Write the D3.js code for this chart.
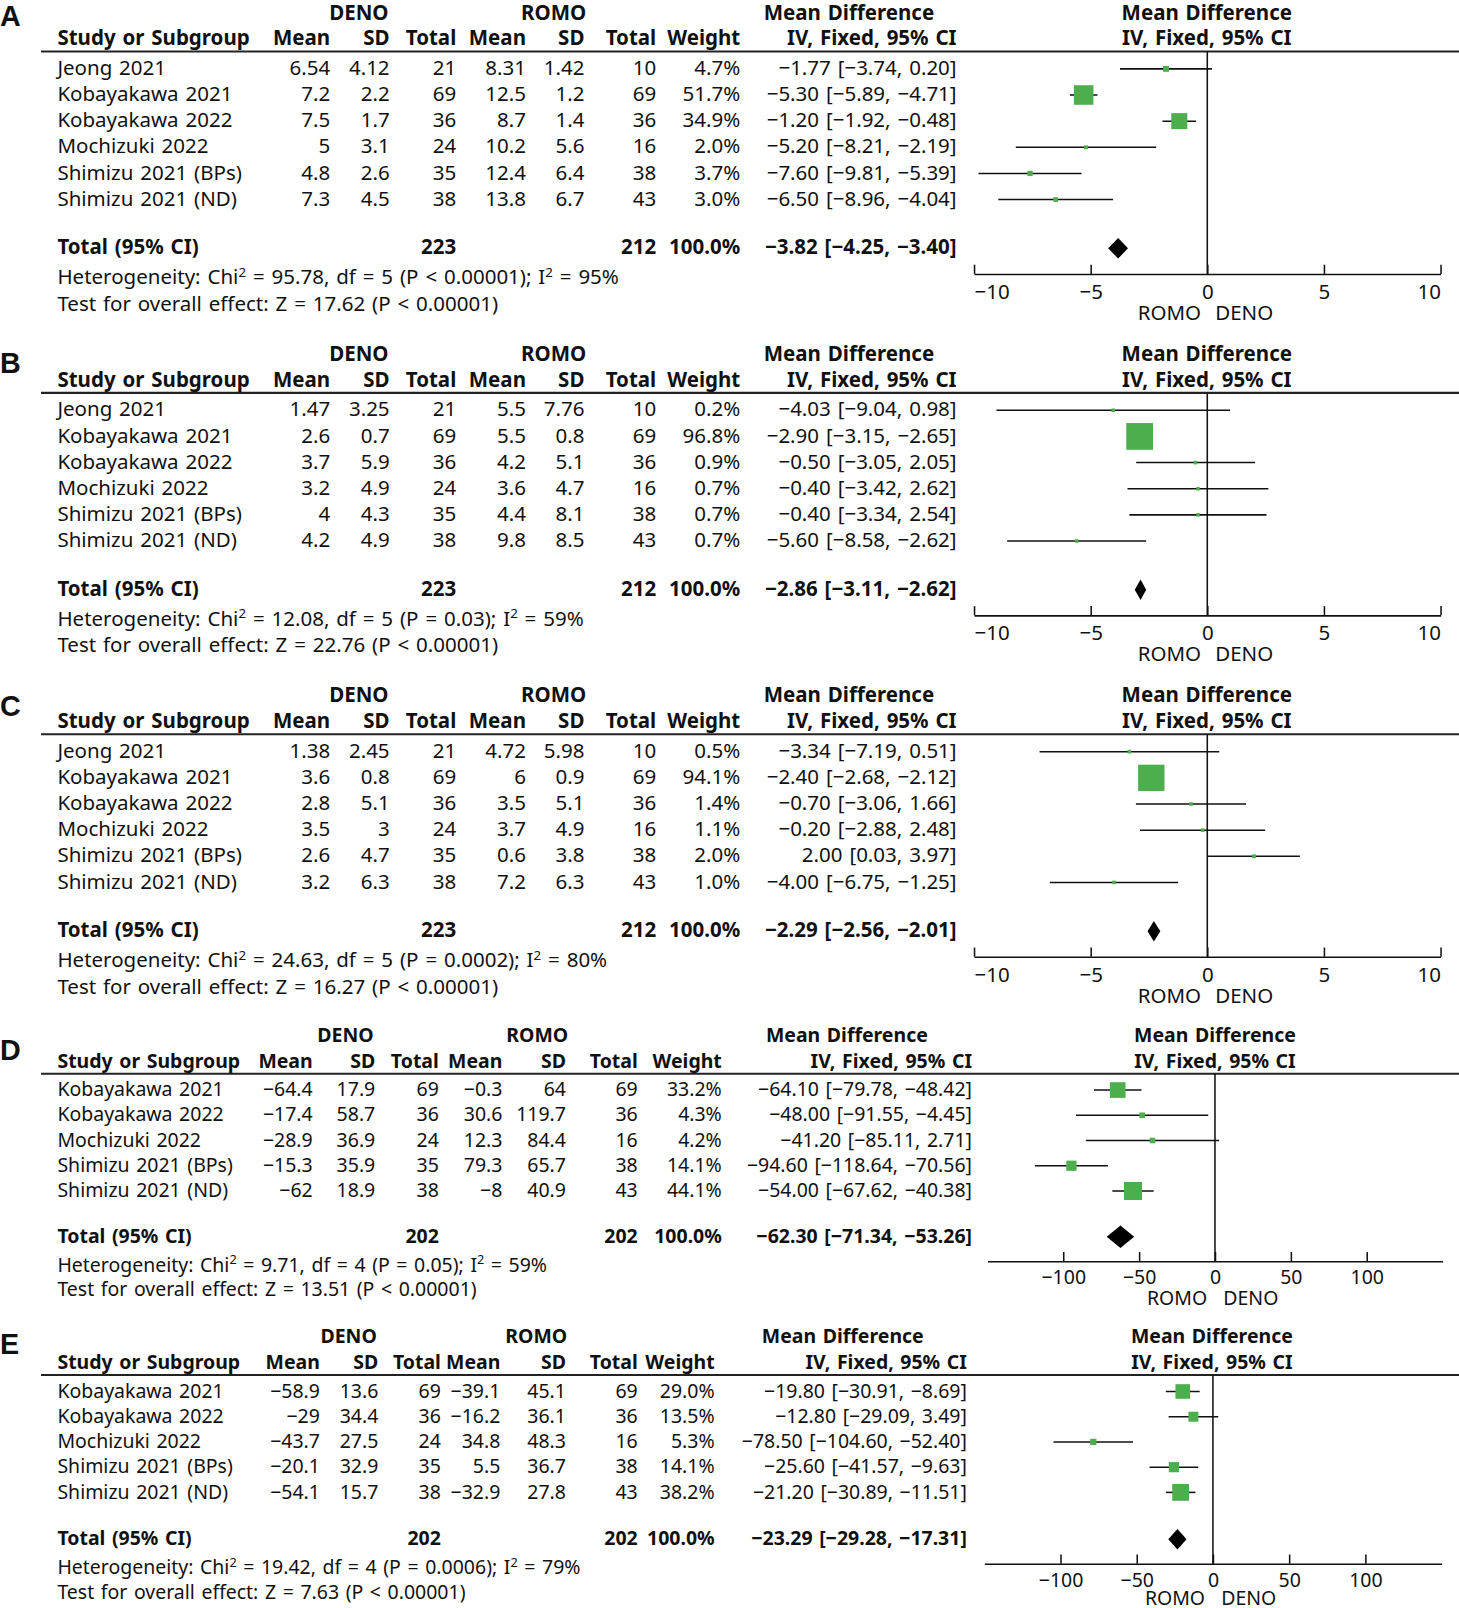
<!DOCTYPE html>
<html>
<head>
<meta charset="utf-8">
<script src="https://cdn.jsdelivr.net/npm/d3@7"></script>
<style>
  body { margin: 0; background: #fff; }
  text { font-family: "Noto Sans", "Open Sans", sans-serif; fill: #111; word-spacing: 1.5px; }
</style>
</head>
<body>
<script>
// ---- data ----
var studiesABC = ["Jeong 2021", "Kobayakawa 2021", "Kobayakawa 2022", "Mochizuki 2022", "Shimizu 2021 (BPs)", "Shimizu 2021 (ND)"]
var studiesDE = ["Kobayakawa 2021", "Kobayakawa 2022", "Mochizuki 2022", "Shimizu 2021 (BPs)", "Shimizu 2021 (ND)"]
var denoNABC = [21, 69, 36, 24, 35, 38]
var romoNABC = [10, 69, 36, 16, 38, 43]
var denoNDE = [69, 36, 24, 35, 38]
var romoNDE = [69, 36, 16, 38, 43]

// A
var denoMeanA = [6.54, 7.2, 7.5, 5, 4.8, 7.3]
var denoSdA = [4.12, 2.2, 1.7, 3.1, 2.6, 4.5]
var romoMeanA = [8.31, 12.5, 8.7, 10.2, 12.4, 13.8]
var romoSdA = [1.42, 1.2, 1.4, 5.6, 6.4, 6.7]
var weightA = [4.7, 51.7, 34.9, 2.0, 3.7, 3.0]
var mdA = [-1.77, -5.30, -1.20, -5.20, -7.60, -6.50]
var loA = [-3.74, -5.89, -1.92, -8.21, -9.81, -8.96]
var hiA = [0.20, -4.71, -0.48, -2.19, -5.39, -4.04]

// B
var denoMeanB = [1.47, 2.6, 3.7, 3.2, 4, 4.2]
var denoSdB = [3.25, 0.7, 5.9, 4.9, 4.3, 4.9]
var romoMeanB = [5.5, 5.5, 4.2, 3.6, 4.4, 9.8]
var romoSdB = [7.76, 0.8, 5.1, 4.7, 8.1, 8.5]
var weightB = [0.2, 96.8, 0.9, 0.7, 0.7, 0.7]
var mdB = [-4.03, -2.90, -0.50, -0.40, -0.40, -5.60]
var loB = [-9.04, -3.15, -3.05, -3.42, -3.34, -8.58]
var hiB = [0.98, -2.65, 2.05, 2.62, 2.54, -2.62]

// C
var denoMeanC = [1.38, 3.6, 2.8, 3.5, 2.6, 3.2]
var denoSdC = [2.45, 0.8, 5.1, 3, 4.7, 6.3]
var romoMeanC = [4.72, 6, 3.5, 3.7, 0.6, 7.2]
var romoSdC = [5.98, 0.9, 5.1, 4.9, 3.8, 6.3]
var weightC = [0.5, 94.1, 1.4, 1.1, 2.0, 1.0]
var mdC = [-3.34, -2.40, -0.70, -0.20, 2.00, -4.00]
var loC = [-7.19, -2.68, -3.06, -2.88, 0.03, -6.75]
var hiC = [0.51, -2.12, 1.66, 2.48, 3.97, -1.25]

// D
var denoMeanD = [-64.4, -17.4, -28.9, -15.3, -62]
var denoSdD = [17.9, 58.7, 36.9, 35.9, 18.9]
var romoMeanD = [-0.3, 30.6, 12.3, 79.3, -8]
var romoSdD = [64, 119.7, 84.4, 65.7, 40.9]
var weightD = [33.2, 4.3, 4.2, 14.1, 44.1]
var mdD = [-64.10, -48.00, -41.20, -94.60, -54.00]
var loD = [-79.78, -91.55, -85.11, -118.64, -67.62]
var hiD = [-48.42, -4.45, 2.71, -70.56, -40.38]

// E
var denoMeanE = [-58.9, -29, -43.7, -20.1, -54.1]
var denoSdE = [13.6, 34.4, 27.5, 32.9, 15.7]
var romoMeanE = [-39.1, -16.2, 34.8, 5.5, -32.9]
var romoSdE = [45.1, 36.1, 48.3, 36.7, 27.8]
var weightE = [29.0, 13.5, 5.3, 14.1, 38.2]
var mdE = [-19.80, -12.80, -78.50, -25.60, -21.20]
var loE = [-30.91, -29.09, -104.60, -41.57, -30.89]
var hiE = [-8.69, 3.49, -52.40, -9.63, -11.51]

// totals per panel A..E
var panelLetters = ["A", "B", "C", "D", "E"]
var totalDeno = [223, 223, 223, 202, 202]
var totalRomo = [212, 212, 212, 202, 202]
var totalMd = [-3.82, -2.86, -2.29, -62.30, -23.29]
var totalLo = [-4.25, -3.11, -2.56, -71.34, -29.28]
var totalHi = [-3.40, -2.62, -2.01, -53.26, -17.31]
var chiVals = [95.78, 12.08, 24.63, 9.71, 19.42]
var dfVals = [5, 5, 5, 4, 4]
var hetP = ["< 0.00001", "= 0.03", "= 0.0002", "= 0.05", "= 0.0006"]
var i2Vals = [95, 59, 80, 59, 79]
var zVals = [17.62, 22.76, 16.27, 13.51, 7.63]

var ticksSmall = [-10, -5, 0, 5, 10]
var ticksLarge = [-100, -50, 0, 50, 100]

// ---- layout ----
var svg = d3.select("body").append("svg")
    .attr("width", 1459)
    .attr("height", 1608)
    .attr("viewBox", "0 0 1423 1568")

var green = "#4cae4c"
var boxSize = d3.scaleSqrt().domain([0, 100]).range([0, 26.5])
var f2 = d3.format(".2f")
var f1 = d3.format(".1f")
var minus = function(v) { return String(v).replace("-", "\u2212") }

var layoutABC = {
    rowGap: 25.5, firstRow: 23, totalY: 198, hetY: 227, testY: 253, axisY: 217,
    font: 20, cols: [322, 380, 445, 513, 570, 640, 722, 933],
    deno: 350, romo: 540, mdHead: 828, plotHead: 1177, pad: 10, clampEnds: true,
    xr: [950, 1405], dom: [-10, 10], ticks: ticksSmall, dh: 10, sideOff: [-37, 36], sideY: 262
}

var panels = [
    {L: 50, letterY: -25, lay: layoutABC, studies: studiesABC, n1: denoNABC, n2: romoNABC,
     m1: denoMeanA, s1: denoSdA, m2: romoMeanA, s2: romoSdA, w: weightA, md: mdA, lo: loA, hi: hiA},
    {L: 383, letterY: -19, lay: layoutABC, studies: studiesABC, n1: denoNABC, n2: romoNABC,
     m1: denoMeanB, s1: denoSdB, m2: romoMeanB, s2: romoSdB, w: weightB, md: mdB, lo: loB, hi: hiB},
    {L: 716, letterY: -18, lay: layoutABC, studies: studiesABC, n1: denoNABC, n2: romoNABC,
     m1: denoMeanC, s1: denoSdC, m2: romoMeanC, s2: romoSdC, w: weightC, md: mdC, lo: loC, hi: hiC},
    {L: 1047, letterY: -13, studies: studiesDE, n1: denoNDE, n2: romoNDE,
     m1: denoMeanD, s1: denoSdD, m2: romoMeanD, s2: romoSdD, w: weightD, md: mdD, lo: loD, hi: hiD,
     lay: {rowGap: 24.6, firstRow: 22, totalY: 165, hetY: 193, testY: 217, axisY: 183,
           font: 19, cols: [305, 366, 428, 490, 552, 622, 704, 948],
           deno: 337, romo: 524, mdHead: 826, plotHead: 1185, pad: 9, clampEnds: false,
           xr: [963, 1407], dom: [-150, 150], ticks: ticksLarge, dh: 11, sideOff: [-37, 35], sideY: 226}},
    {L: 1341, letterY: -21, studies: studiesDE, n1: denoNDE, n2: romoNDE,
     m1: denoMeanE, s1: denoSdE, m2: romoMeanE, s2: romoSdE, w: weightE, md: mdE, lo: loE, hi: hiE,
     lay: {rowGap: 24.6, firstRow: 22, totalY: 166, hetY: 194, testY: 218, axisY: 184,
           font: 19, cols: [312, 369, 430, 488, 552, 622, 697, 943],
           deno: 340, romo: 523, mdHead: 822, plotHead: 1182, pad: 9, clampEnds: false,
           xr: [960, 1406], dom: [-150, 150], ticks: ticksLarge, dh: 10, sideOff: [-37, 35], sideY: 224}}
]

var drawPanel = function(p, k)
{
    var lay = p.lay
    var g = svg.append("g").attr("transform", "translate(0," + p.L + ")")
    var fs = lay.font

    g.append("text").attr("x", 0).attr("y", p.letterY)
        .attr("font-size", 28).attr("font-weight", "bold")
        .style("font-family", "Liberation Sans, Arial, sans-serif")
        .text(panelLetters[k])

    // headers
    var hdr = g.append("g").attr("font-size", fs).attr("font-weight", "bold")
    hdr.append("text").attr("x", lay.deno).attr("y", -31).attr("text-anchor", "middle").text("DENO")
    hdr.append("text").attr("x", lay.romo).attr("y", -31).attr("text-anchor", "middle").text("ROMO")
    hdr.append("text").attr("x", lay.mdHead).attr("y", -31).attr("text-anchor", "middle").text("Mean Difference")
    hdr.append("text").attr("x", lay.plotHead).attr("y", -31).attr("text-anchor", "middle").text("Mean Difference")
    hdr.append("text").attr("x", 56).attr("y", -6).text("Study or Subgroup")
    var heads = ["Mean", "SD", "Total", "Mean", "SD", "Total", "Weight", "IV, Fixed, 95% CI"]
    hdr.selectAll(".h").data(heads).enter().append("text")
        .attr("x", function(d, i) { return lay.cols[i] })
        .attr("y", -6).attr("text-anchor", "end").text(function(d) { return d })
    hdr.append("text").attr("x", lay.plotHead).attr("y", -6).attr("text-anchor", "middle").text("IV, Fixed, 95% CI")

    g.append("line").attr("x1", 40).attr("x2", 1423).attr("y1", 0).attr("y2", 0)
        .attr("stroke", "#222").attr("stroke-width", 2)

    // table rows
    var rows = p.studies.map(function(s, i) {
        return [s, minus(p.m1[i]), minus(p.s1[i]), p.n1[i], minus(p.m2[i]), minus(p.s2[i]), p.n2[i],
                f1(p.w[i]) + "%", f2(p.md[i]) + " [" + f2(p.lo[i]) + ", " + f2(p.hi[i]) + "]"]
    })
    var rowY = function(i) { return lay.firstRow + i * lay.rowGap }
    var rg = g.selectAll(".row").data(rows).enter().append("g")
        .attr("transform", function(d, i) { return "translate(0," + rowY(i) + ")" })
        .attr("font-size", fs)
    rg.selectAll("text").data(function(d) { return d }).enter().append("text")
        .attr("x", function(d, j) { return j == 0 ? 56 : lay.cols[j - 1] })
        .attr("text-anchor", function(d, j) { return j == 0 ? "start" : "end" })
        .text(function(d) { return d })

    // total row
    var tot = g.append("g").attr("font-size", fs).attr("font-weight", "bold")
    tot.append("text").attr("x", 56).attr("y", lay.totalY).text("Total (95% CI)")
    var totCells = [[2, totalDeno[k]], [5, totalRomo[k]], [6, "100.0%"],
        [7, f2(totalMd[k]) + " [" + f2(totalLo[k]) + ", " + f2(totalHi[k]) + "]"]]
    tot.selectAll(".t").data(totCells).enter().append("text")
        .attr("x", function(d) { return lay.cols[d[0]] })
        .attr("y", lay.totalY).attr("text-anchor", "end")
        .text(function(d) { return d[1] })

    // heterogeneity lines
    var het = g.append("text").attr("x", 56).attr("y", lay.hetY).attr("font-size", fs)
    het.append("tspan").text("Heterogeneity: Chi")
    het.append("tspan").attr("dy", -7).attr("font-size", fs * 0.65).text("2")
    het.append("tspan").attr("dy", 7).text(" = " + f2(chiVals[k]) + ", df = " + dfVals[k] + " (P " + hetP[k] + "); I")
    het.append("tspan").attr("dy", -7).attr("font-size", fs * 0.65).text("2")
    het.append("tspan").attr("dy", 7).text(" = " + i2Vals[k] + "%")
    g.append("text").attr("x", 56).attr("y", lay.testY).attr("font-size", fs)
        .text("Test for overall effect: Z = " + f2(zVals[k]) + " (P < 0.00001)")

    // forest plot
    var x = d3.scaleLinear().domain(lay.dom).range(lay.xr)
    g.append("line").attr("x1", x(0)).attr("x2", x(0)).attr("y1", 0).attr("y2", lay.axisY)
        .attr("stroke", "#111").attr("stroke-width", 1.5)

    var axis = d3.axisBottom(x).tickValues(lay.ticks).tickSizeInner(-9).tickSizeOuter(0).tickPadding(lay.pad)
    var ax = g.append("g").attr("transform", "translate(0," + lay.axisY + ")").call(axis)
    ax.select(".domain").attr("stroke", "#111").attr("stroke-width", 1.5)
    ax.selectAll(".tick line").attr("stroke", "#111").attr("stroke-width", 1.5)
    var nT = lay.ticks.length
    ax.selectAll(".tick text").attr("font-size", fs).attr("fill", "#111")
        .style("font-family", "Noto Sans, sans-serif")
        .attr("text-anchor", function(d, i) {
            if (!lay.clampEnds) return "middle"
            return i == 0 ? "start" : (i == nT - 1 ? "end" : "middle")
        })

    g.append("text").attr("x", x(0) + lay.sideOff[0]).attr("y", lay.sideY)
        .attr("text-anchor", "middle").attr("font-size", fs).text("ROMO")
    g.append("text").attr("x", x(0) + lay.sideOff[1]).attr("y", lay.sideY)
        .attr("text-anchor", "middle").attr("font-size", fs).text("DENO")

    var idx = d3.range(p.md.length)
    g.selectAll(".ci").data(idx).enter().append("line")
        .attr("x1", function(i) { return x(p.lo[i]) })
        .attr("x2", function(i) { return x(p.hi[i]) })
        .attr("y1", function(i) { return rowY(i) - 6 })
        .attr("y2", function(i) { return rowY(i) - 6 })
        .attr("stroke", "#111").attr("stroke-width", 1.5)
    g.selectAll(".box").data(idx).enter().append("rect")
        .attr("x", function(i) { return x(p.md[i]) - Math.max(3.5, boxSize(p.w[i])) / 2 })
        .attr("y", function(i) { return rowY(i) - 6 - Math.max(3.5, boxSize(p.w[i])) / 2 })
        .attr("width", function(i) { return Math.max(3.5, boxSize(p.w[i])) })
        .attr("height", function(i) { return Math.max(3.5, boxSize(p.w[i])) })
        .attr("fill", green)

    var cy = lay.totalY - 6
    g.append("path")
        .attr("d", "M" + x(totalLo[k]) + "," + cy + "L" + x(totalMd[k]) + "," + (cy - lay.dh) +
            "L" + x(totalHi[k]) + "," + cy + "L" + x(totalMd[k]) + "," + (cy + lay.dh) + "Z")
        .attr("fill", "#000")
}

panels.forEach(drawPanel)
</script>
</body>
</html>
